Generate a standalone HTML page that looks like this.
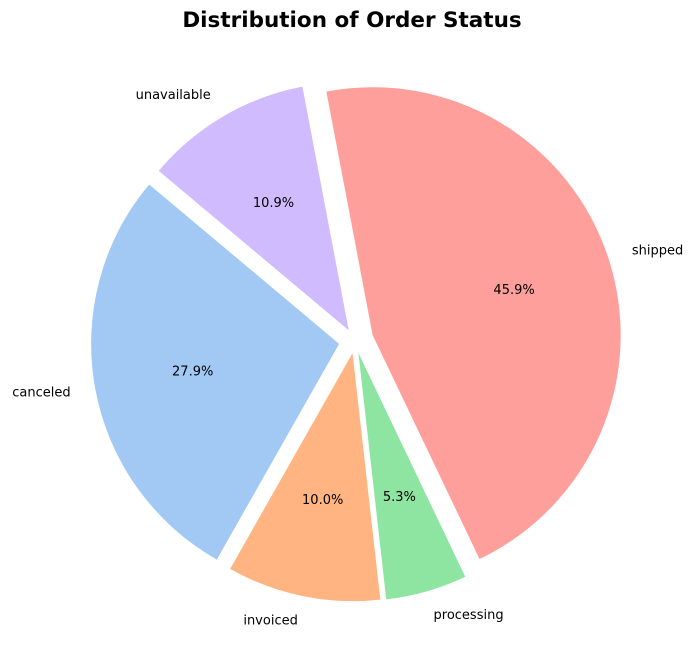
<!DOCTYPE html>
<html>
<head>
<meta charset="utf-8">
<style>
  html, body { margin: 0; padding: 0; background: #fff; }
  svg { display: block; font-family: "DejaVu Sans", "Liberation Sans", sans-serif; }
</style>
</head>
<body>
<svg id="chart" width="697" height="660" viewBox="0 0 697 660">
  <text x="352" y="27" text-anchor="middle" font-size="21.5" font-weight="bold" fill="#000">Distribution of Order Status</text>
  <g id="slices"></g>
</svg>
<script>
const categories = ["canceled", "invoiced", "processing", "shipped", "unavailable"];
const values = [27.9, 10.0, 5.3, 45.9, 10.9];
const colors = ["#a1c9f4", "#ffb482", "#8de5a1", "#ff9f9b", "#d0bbff"];
const explode = [0.065, 0.05, 0.05, 0.075, 0.05];

const cx = 355, cy = 341, R = 248, startAngle = 140;
const NS = "http://www.w3.org/2000/svg";
const g = document.getElementById("slices");
const total = values.reduce((a, b) => a + b, 0);

function pt(ox, oy, r, deg) {
  const a = deg * Math.PI / 180;
  return [ox + r * Math.cos(a), oy - r * Math.sin(a)];
}

let ang = startAngle;
values.forEach((v, i) => {
  const span = v / total * 360;
  const a0 = ang, a1 = ang + span, mid = ang + span / 2;
  ang = a1;
  const [ox, oy] = pt(cx, cy, explode[i] * R, mid);
  const [x0, y0] = pt(ox, oy, R, a0);
  const [x1, y1] = pt(ox, oy, R, a1);
  const large = span > 180 ? 1 : 0;
  const path = document.createElementNS(NS, "path");
  path.setAttribute("d", `M${ox},${oy} L${x0},${y0} A${R},${R} 0 ${large} 0 ${x1},${y1} Z`);
  path.setAttribute("fill", colors[i]);
  
  
  g.appendChild(path);

  const [px, py] = pt(ox, oy, 0.6 * R, mid);
  const pct = document.createElementNS(NS, "text");
  pct.setAttribute("x", px);
  pct.setAttribute("y", py + 5);
  pct.setAttribute("text-anchor", "middle");
  pct.setAttribute("font-size", "13");
  pct.textContent = (v / total * 100).toFixed(1) + "%";
  
  
  g.appendChild(pct);

  const [lx, ly] = pt(ox, oy, 1.1 * R, mid);
  const lab = document.createElementNS(NS, "text");
  lab.setAttribute("x", lx);
  lab.setAttribute("y", ly + 4);
  const c = Math.cos(mid * Math.PI / 180);
  lab.setAttribute("text-anchor", c >= 0 ? "start" : "end");
  lab.setAttribute("font-size", "13");
  lab.textContent = categories[i];
  
  
  g.appendChild(lab);
});
</script>
</body>
</html>
